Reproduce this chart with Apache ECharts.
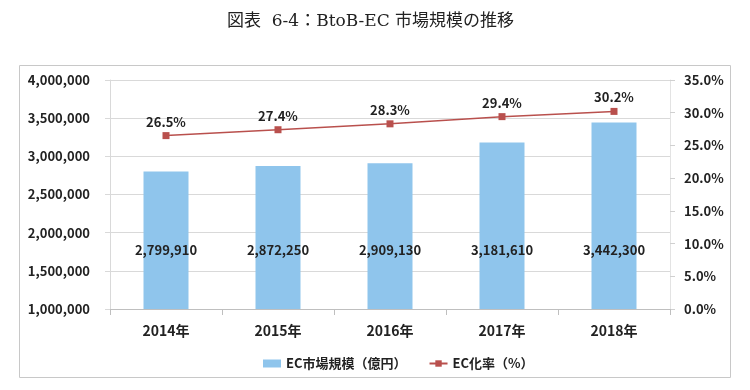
<!DOCTYPE html>
<html><head><meta charset="utf-8">
<script src="https://cdn.jsdelivr.net/npm/echarts@6/dist/echarts.min.js"></script>
<style>html,body{margin:0;padding:0;background:#fff}#c{width:750px;height:390px}</style>
</head><body><div id="c"></div>
<script>
const categories = ['2014年','2015年','2016年','2017年','2018年'];
const marketSize = [2799910, 2872250, 2909130, 3181610, 3442300];
const ecRate = [26.5, 27.4, 28.3, 29.4, 30.2];
const seriesNames = ['EC市場規模（億円）', 'EC化率（%）'];
const titleText = '図表  6-4：BtoB-EC 市場規模の推移';

const font = "'Noto Sans CJK JP', 'Open Sans', sans-serif";
const chart = echarts.init(document.getElementById('c'));
chart.setOption({
  animation: false,
  title: {
    text: titleText, left: 222, top: 8,
    textStyle: { fontFamily: "'DejaVu Serif', 'Noto Sans CJK JP', serif", fontSize: 17, fontWeight: 'normal', color: '#222' }
  },
  graphic: [{
    type: 'rect', shape: { x: 19.5, y: 65.5, width: 711, height: 312 },
    style: { fill: 'none', stroke: '#c8c8c8', lineWidth: 1 }, z: -1
  }],
  legend: {
    top: 352, left: 258, itemGap: 22, itemWidth: 18, itemHeight: 8,
    textStyle: { fontFamily: font, fontSize: 13, fontWeight: 'bold', color: '#222' },
    data: [{ name: seriesNames[0], icon: 'rect' }, { name: seriesNames[1] }]
  },
  grid: { left: 110, right: 80, top: 80, bottom: 81 },
  xAxis: {
    type: 'category', data: categories,
    axisLine: { lineStyle: { color: '#bfbfbf' } },
    axisTick: { show: true, length: 6, lineStyle: { color: '#bfbfbf' } },
    axisLabel: { fontFamily: font, fontSize: 14, fontWeight: 'bold', color: '#222', margin: 15 }
  },
  yAxis: [{
    type: 'value', min: 1000000, max: 4000000, interval: 500000,
    axisLine: { show: true, lineStyle: { color: '#d9d9d9' } },
    axisTick: { show: true, length: 5, lineStyle: { color: '#d9d9d9' } },
    splitLine: { lineStyle: { color: '#d9d9d9' } },
    axisLabel: { fontFamily: font, fontSize: 13, fontWeight: 'bold', color: '#222', margin: 20,
      formatter: v => v.toLocaleString('en-US') }
  }, {
    type: 'value', min: 0, max: 35, interval: 5,
    axisLine: { show: true, lineStyle: { color: '#e3e3e3' } },
    axisTick: { show: true, length: 5, lineStyle: { color: '#d0d0d0' } },
    splitLine: { show: false },
    axisLabel: { fontFamily: font, fontSize: 13, fontWeight: 'bold', color: '#222', margin: 14,
      formatter: v => v.toFixed(1) + '%' }
  }],
  series: [{
    name: seriesNames[0], type: 'bar', data: marketSize, barWidth: 45,
    itemStyle: { color: '#8fc5ec' },
    label: { show: true, position: 'insideBottom', distance: 52, fontFamily: font, fontSize: 13,
      fontWeight: 'bold', color: '#222', formatter: p => p.value.toLocaleString('en-US') }
  }, {
    name: seriesNames[1], type: 'line', yAxisIndex: 1, data: ecRate,
    symbol: 'rect', symbolSize: 7,
    lineStyle: { color: '#b9504d', width: 1.5 }, itemStyle: { color: '#b9504d' },
    label: { show: true, position: 'top', distance: 4, fontFamily: font, fontSize: 13,
      fontWeight: 'bold', color: '#222', formatter: p => p.value.toFixed(1) + '%' }
  }]
});
</script></body></html>
